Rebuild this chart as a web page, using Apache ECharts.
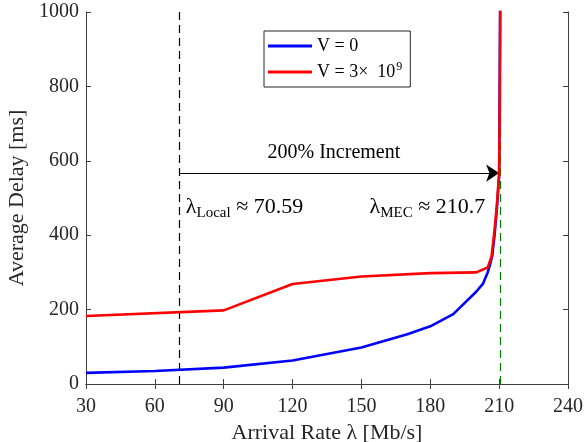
<!DOCTYPE html>
<html>
<head>
<meta charset="utf-8">
<script src="https://cdn.jsdelivr.net/npm/echarts@6/dist/echarts.min.js"></script>
<style>
  html, body { margin: 0; padding: 0; background: #fff; }
  #chart { width: 587px; height: 442px; }
</style>
</head>
<body>
<div id="chart"></div>
<script>
// data
var blueX = [30, 60, 90, 120, 150, 170, 180, 190, 200, 203, 205, 206, 207, 208, 209, 210, 210.6];
var blueY = [30, 35, 44, 63, 98, 134, 155, 188, 248, 270, 300, 320, 345, 400, 470, 560, 1200];
var redX = [30, 90, 120, 150, 180, 200, 205, 206.7, 208, 209, 210, 210.3, 210.6];
var redY = [183, 198, 269, 289, 298, 300, 313, 343, 414, 480, 567, 780, 1200];
var xTicks = [30, 60, 90, 120, 150, 180, 210, 240];
var yTicks = [0, 200, 400, 600, 800, 1000];
var lambdaLocal = 70.59;
var lambdaMEC = 210.7;
var arrowY = 567;

var FONT = '"Liberation Serif", "DejaVu Serif", serif';
var AX = '#404040';

function pairs(xs, ys) {
    var out = [];
    for (var i = 0; i < xs.length; i++) out.push([xs[i], ys[i]]);
    return out;
}

var chart = echarts.init(document.getElementById('chart'), null, {renderer: 'canvas'});

// rich styles for the lambda labels
var rich = {
    l: {fontFamily: FONT, fontSize: 22, color: '#000'},
    s: {fontFamily: FONT, fontSize: 15, color: '#000', padding: [13, 0, 0, 0]},
    t: {fontFamily: FONT, fontSize: 22, color: '#000'}
};

var option = {
    animation: false,
    textStyle: {fontFamily: FONT},
    grid: {left: 86, right: 19, top: 12, bottom: 58, containLabel: false, outerBoundsMode: 'none'},
    legend: {
        orient: 'vertical',
        left: 264, top: 31,
        width: 146,
        padding: [6, 8, 6, 4],
        itemGap: 6,
        itemWidth: 44, itemHeight: 3,
        icon: 'rect',
        borderColor: '#262626', borderWidth: 1,
        backgroundColor: '#fff',
        data: ['V = 0', 'V = 3e9'],
        formatter: function (n) {
            return n == 'V = 0' ? '{a|V = 0}' : '{a|V = 3\u00d7  10}{sup|9}';
        },
        textStyle: {
            fontFamily: FONT, color: '#000', fontSize: 18,
            rich: {
                a: {fontFamily: FONT, fontSize: 18, color: '#000'},
                sup: {fontFamily: FONT, fontSize: 12, color: '#000', padding: [0, 0, 10, 1]}
            }
        }
    },
    xAxis: [{
        type: 'value', min: 30, max: 240, interval: 30,
        name: 'Arrival Rate \u03bb [Mb/s]', nameLocation: 'middle', nameGap: 33,
        nameTextStyle: {fontFamily: FONT, fontSize: 22, color: '#262626'},
        axisLine: {lineStyle: {color: AX, width: 1}},
        axisTick: {inside: true, length: 5, lineStyle: {color: AX}},
        axisLabel: {fontFamily: FONT, fontSize: 20, color: '#262626', margin: 13,
            formatter: function (v) { return xTicks.indexOf(v) >= 0 ? String(v) : ''; }},
        splitLine: {show: false}
    }, {
        type: 'value', min: 30, max: 240, interval: 30, position: 'top',
        axisLine: {show: true, lineStyle: {color: AX, width: 1}},
        axisTick: {show: true, inside: true, length: 5, lineStyle: {color: AX}},
        axisLabel: {show: false}, splitLine: {show: false}
    }],
    yAxis: [{
        type: 'value', min: 0, max: 1000, interval: 200,
        name: 'Average Delay [ms]', nameLocation: 'middle', nameGap: 48,
        nameTextStyle: {fontFamily: FONT, fontSize: 22, color: '#262626'},
        axisLine: {show: true, lineStyle: {color: AX, width: 1}},
        axisTick: {show: true, inside: true, length: 5, lineStyle: {color: AX}},
        axisLabel: {fontFamily: FONT, fontSize: 20, color: '#262626', margin: 7,
            formatter: function (v) { return yTicks.indexOf(v) >= 0 ? String(v) : ''; }},
        splitLine: {show: false}
    }, {
        type: 'value', min: 0, max: 1000, interval: 200, position: 'right',
        axisLine: {show: true, lineStyle: {color: AX, width: 1}},
        axisTick: {show: true, inside: true, length: 5, lineStyle: {color: AX}},
        axisLabel: {show: false}, splitLine: {show: false}
    }],
    series: [{
        name: 'V = 0',
        type: 'line',
        data: pairs(blueX, blueY),
        showSymbol: false, symbol: 'none',
        lineStyle: {color: '#0000ff', width: 2.6},
        itemStyle: {color: '#0000ff'},
        z: 3,
        markLine: {
            silent: true, symbol: 'none',
            label: {show: false},
            data: [
                {xAxis: lambdaLocal, lineStyle: {color: '#000', type: [8, 5], width: 1.2}},
                {xAxis: lambdaMEC, lineStyle: {color: '#008000', type: [8, 5], width: 1.2}}
            ]
        }
    }, {
        name: 'V = 3e9',
        type: 'line',
        data: pairs(redX, redY),
        showSymbol: false, symbol: 'none',
        lineStyle: {color: '#ff0000', width: 2.6},
        itemStyle: {color: '#ff0000'},
        z: 10
    }, {
        // annotations: arrow and texts
        name: 'notes',
        type: 'line',
        data: [],
        z: 12,
        markLine: {
            silent: true,
            symbol: ['none', 'arrow'], symbolSize: 13,
            label: {show: false},
            lineStyle: {color: '#000', type: 'solid', width: 1},
            itemStyle: {color: '#000'},
            data: [[{coord: [lambdaLocal, arrowY], symbol: 'none'}, {coord: [210, arrowY], symbol: 'arrow'}]]
        },
        markPoint: {
            silent: true,
            symbol: 'circle', symbolSize: 0,
            label: {show: true, color: '#000', fontFamily: FONT, fontSize: 20},
            itemStyle: {color: 'transparent'},
            data: [
                {coord: [138, 621], label: {position: 'inside', formatter: '200% Increment'}},
                {coord: [73.5, 476], label: {position: 'right', distance: 0, rich: rich,
                    formatter: '{l|\u03bb}{s|Local}{t| \u2248 70.59}'}},
                {coord: [153.5, 476], label: {position: 'right', distance: 0, rich: rich,
                    formatter: '{l|\u03bb}{s|MEC}{t| \u2248 210.7}'}}
            ]
        }
    }]
};

chart.setOption(option);
</script>
</body>
</html>
